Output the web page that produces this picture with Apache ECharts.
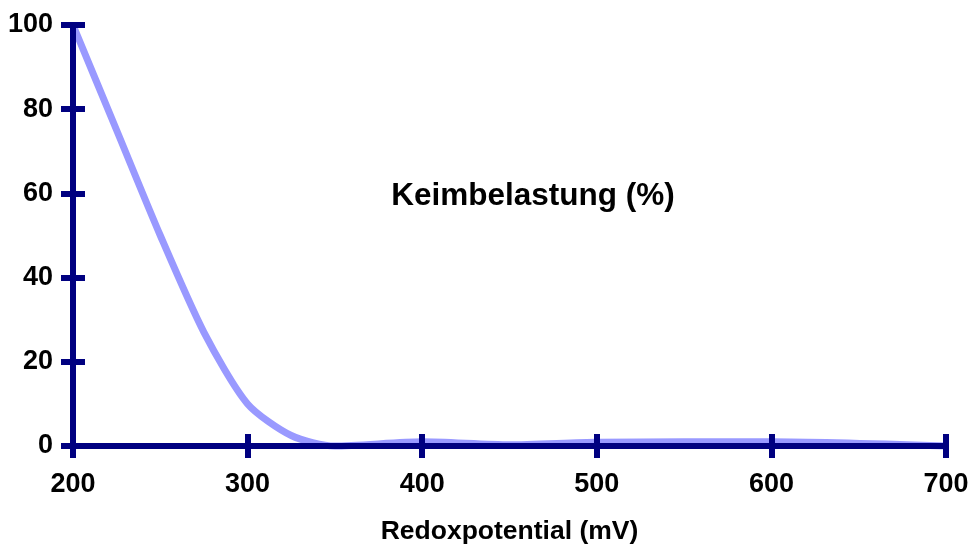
<!DOCTYPE html>
<html>
<head>
<meta charset="utf-8">
<script src="https://cdn.jsdelivr.net/npm/echarts@6/dist/echarts.min.js"></script>
<style>
html,body{margin:0;padding:0;background:#fff;}
#chart{width:971px;height:546px;}
</style>
</head>
<body>
<div id="chart"></div>
<script>
const redoxValues = [200, 225, 250, 275, 300, 325, 350, 400, 450, 500, 600, 700];
const keimbelastung = [100, 75, 50, 27, 10, 2.5, 0, 1, 0.3, 0.9, 1, 0];
const seriesLabel = 'Keimbelastung (%)';
const xAxisTitle = 'Redoxpotential (mV)';

const navy = '#000080';
const font = 'Liberation Sans, Arial, sans-serif';
const chart = echarts.init(document.getElementById('chart'));

const baseX = {type: 'value', min: 200, max: 700, interval: 100, position: 'bottom', z: 5, splitLine: {show: false}};
const baseY = {type: 'value', min: 0, max: 100, interval: 20, position: 'left', z: 5, splitLine: {show: false}};

chart.setOption({
  animation: false,
  backgroundColor: '#ffffff',
  grid: {left: 73, right: 25, top: 25, bottom: 100, containLabel: false, outerBoundsMode: 'none'},
  graphic: [{
    type: 'text', x: 533, y: 196,
    style: {text: seriesLabel, fill: '#000', font: 'bold 31.5px ' + font, textAlign: 'center', textVerticalAlign: 'middle'}
  }],
  xAxis: [
    Object.assign({}, baseX, {
      name: xAxisTitle, nameLocation: 'middle', nameGap: 72,
      nameTextStyle: {color: '#000', fontWeight: 'bold', fontSize: 26.5, fontFamily: font},
      axisLine: {show: true, lineStyle: {color: navy, width: 6}},
      axisTick: {show: true, inside: false, length: 12, lineStyle: {color: navy, width: 6}},
      axisLabel: {margin: 25, color: '#000', fontWeight: 'bold', fontSize: 27, fontFamily: font}
    }),
    Object.assign({}, baseX, {
      axisLine: {show: false},
      axisTick: {show: true, inside: true, length: 12, lineStyle: {color: navy, width: 6}},
      axisLabel: {show: false}
    })
  ],
  yAxis: [
    Object.assign({}, baseY, {
      axisLine: {show: true, lineStyle: {color: navy, width: 6}},
      axisTick: {show: true, inside: false, length: 12, lineStyle: {color: navy, width: 6}},
      axisLabel: {margin: 20, color: '#000', fontWeight: 'bold', fontSize: 27, fontFamily: font}
    }),
    Object.assign({}, baseY, {
      axisLine: {show: false},
      axisTick: {show: true, inside: true, length: 12, lineStyle: {color: navy, width: 6}},
      axisLabel: {show: false}
    })
  ],
  series: [{
    name: seriesLabel,
    type: 'line',
    smooth: 0.25,
    symbol: 'none',
    clip: false,
    z: 2,
    lineStyle: {color: '#9999ff', width: 7},
    data: redoxValues.map((x, i) => [x, keimbelastung[i]])
  }]
});
</script>
</body>
</html>
